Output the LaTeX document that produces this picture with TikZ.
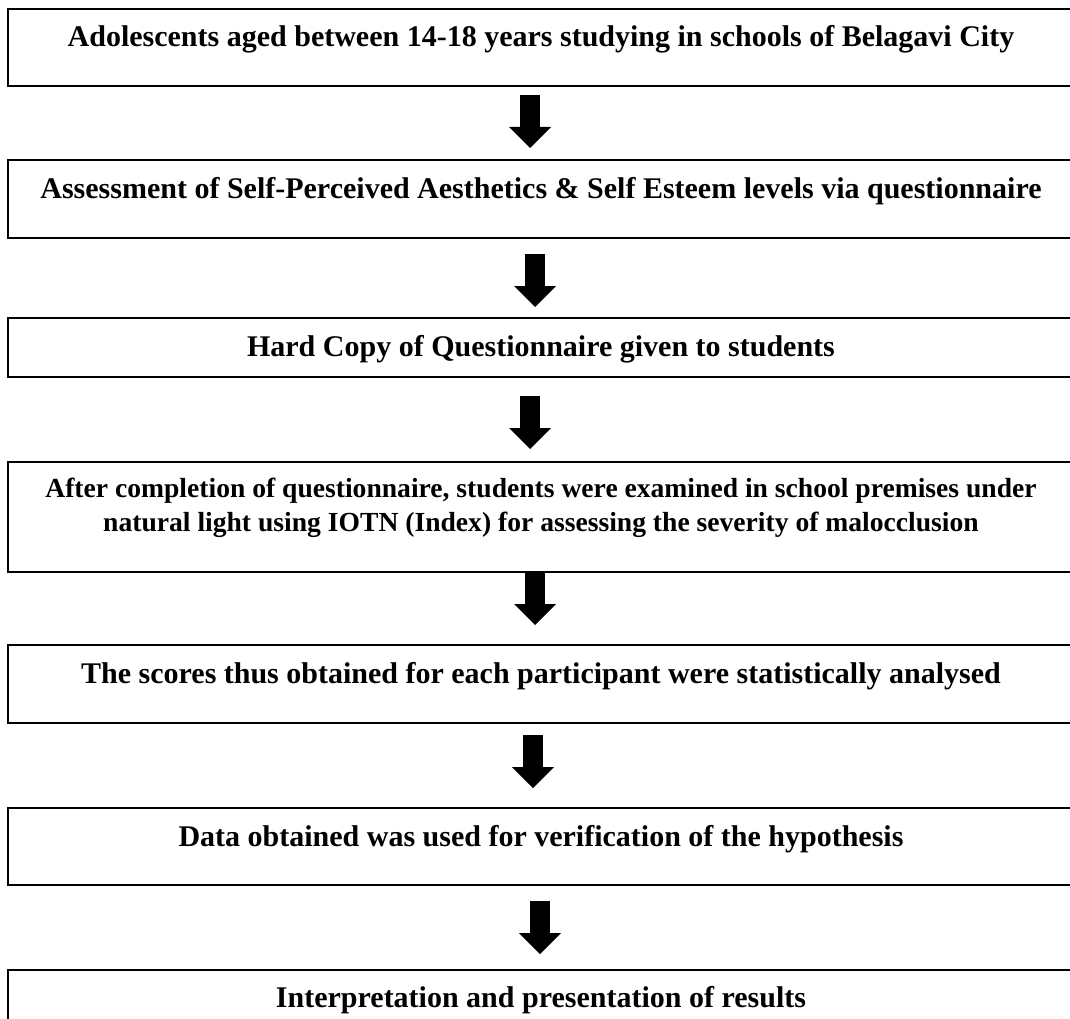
\documentclass[tikz,border=0pt]{standalone}
\usepackage{fontspec}
\setmainfont{Liberation Serif}
\usepackage{tikz}
\usetikzlibrary{positioning,arrows.meta}

\begin{document}
\begin{tikzpicture}[stage/.style={draw,line width=1.5pt,inner sep=0pt,outer sep=0pt,minimum width=1066pt,align=center,font=\fontsize{30}{34}\selectfont\bfseries},flow/.style={line width=20pt,-{Triangle[width=42pt,length=21pt,line width=0pt]}},node distance=80pt]
	\useasboundingbox (0,0) rectangle (1070pt,-1019pt);
	\node[stage,anchor=north,text height=38pt,text depth=39pt] (s1) at (541pt,-9pt) {Adolescents aged between 14-18 years studying in schools of Belagavi City};
	\node[stage,text height=39pt,text depth=39pt] (s2) [below=74pt of s1] {Assessment of Self-Perceived Aesthetics \& Self Esteem levels via questionnaire};
	\node[stage,text height=38pt,text depth=21pt] (s3) [below=80pt of s2] {Hard Copy of Questionnaire given to students};
	\node[stage,font=\fontsize{27.6}{34}\selectfont\bfseries,text height=69pt,text depth=41pt] (s4) [below=85pt of s3] {After completion of questionnaire, students were examined in school premises under\\natural light using IOTN (Index) for assessing the severity of malocclusion};
	\node[stage,text height=38pt,text depth=40pt] (s5) [below=73pt of s4] {The scores thus obtained for each participant were statistically analysed};
	\node[stage,text height=38pt,text depth=39pt] (s6) [below=85pt of s5] {Data obtained was used for verification of the hypothesis};
	\node[stage,text height=37pt,text depth=40pt] (s7) [below=85pt of s6] {Interpretation and presentation of results};

	\draw[flow,shorten <=9pt,shorten >=12pt] ([xshift=-11pt]s1.south) -- ([xshift=-11pt]s2.north);
	\draw[flow,shorten <=16pt,shorten >=11pt] ([xshift=-6pt]s2.south) -- ([xshift=-6pt]s3.north);
	\draw[flow,shorten <=19pt,shorten >=13pt] ([xshift=-11pt]s3.south) -- ([xshift=-11pt]s4.north);
	\draw[flow,shorten >=20pt] ([xshift=-6pt]s4.south) -- ([xshift=-6pt]s5.north);
	\draw[flow,shorten <=12pt,shorten >=20pt] ([xshift=-8pt]s5.south) -- ([xshift=-8pt]s6.north);
	\draw[flow,shorten <=16pt,shorten >=16pt] ([xshift=-1pt]s6.south) -- ([xshift=-1pt]s7.north);
\end{tikzpicture}
\end{document}
